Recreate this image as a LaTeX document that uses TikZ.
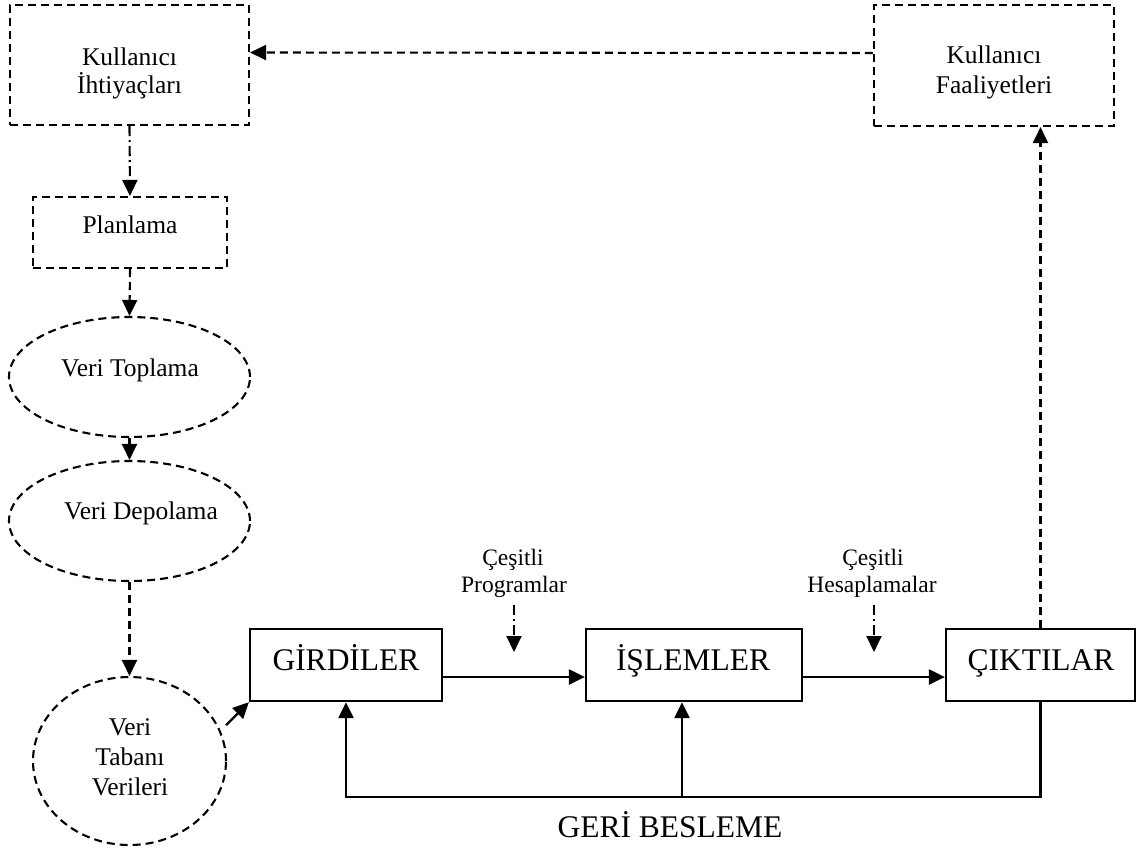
\documentclass[tikz,border=0pt]{standalone}
\usepackage{fontspec}
\setmainfont{Liberation Serif}
\usetikzlibrary{arrows.meta,shapes.geometric}

\tikzset{
  dsh/.style={line width=2.1pt, dash pattern=on 8pt off 5pt},
  dshdot/.style={line width=2.1pt, dash pattern=on 10pt off 4pt on 2pt off 4pt},
  solidline/.style={line width=2.3pt},
  tip/.style={-{Triangle[length=16pt,width=15pt]}},
  dbox/.style={draw, dsh, rectangle, inner sep=0pt},
  dell/.style={draw, dsh, ellipse, inner sep=0pt},
  sbox/.style={draw, solidline, rectangle, inner sep=0pt},
  midtxt/.style={anchor=base, inner sep=0pt, font=\fontsize{25.5}{30}\selectfont},
  smalltxt/.style={anchor=base, inner sep=0pt, font=\fontsize{23.5}{28}\selectfont},
  bigtxt/.style={anchor=base, inner sep=0pt, font=\fontsize{31.5}{36}\selectfont},
}

\begin{document}
\begin{tikzpicture}[x=1pt, y=-1pt]
\useasboundingbox (0,0) rectangle (1136,847);

% shapes
\node[dbox, minimum width=239pt, minimum height=120pt] (ki) at (129.5,65) {};
\node[dbox, minimum width=240pt, minimum height=121pt] (kf) at (994,65.5) {};
\node[dbox, minimum width=194pt, minimum height=71pt] (pl) at (130,232.5) {};
\node[dell, minimum width=241pt, minimum height=120pt] (vtop) at (129.5,377) {};
\node[dell, minimum width=241pt, minimum height=120pt] (vdep) at (129.5,521) {};
\node[dell, minimum width=193pt, minimum height=168pt] (vtab) at (129.5,761) {};
\node[sbox, minimum width=192pt, minimum height=72pt] (gir) at (346,665) {};
\node[sbox, minimum width=216pt, minimum height=72pt] (isl) at (694,665) {};
\node[sbox, minimum width=189pt, minimum height=72pt] (cik) at (1040.5,665) {};

% labels
\node[midtxt] (t1a) at (129.5,65) {Kullanıcı};
\node[midtxt] (t1b) at (129.5,93) {İhtiyaçları};
\node[midtxt] (t2a) at (994,63) {Kullanıcı};
\node[midtxt] (t2b) at (994,93) {Faaliyetleri};
\node[midtxt] (t3) at (130,233) {Planlama};
\node[midtxt] (t4) at (130,376) {Veri Toplama};
\node[midtxt] (t5) at (141,519) {Veri Depolama};
\node[midtxt] (t6a) at (130,735) {Veri};
\node[midtxt] (t6b) at (130,765) {Tabanı};
\node[midtxt] (t6c) at (130,795) {Verileri};
\node[smalltxt] (t7a) at (513,565) {Çeşitli};
\node[smalltxt] (t7b) at (514,592) {Programlar};
\node[smalltxt] (t8a) at (873,565) {Çeşitli};
\node[smalltxt] (t8b) at (872,592) {Hesaplamalar};
\node[bigtxt] (t9) at (346,670) {GİRDİLER};
\node[bigtxt] (t10) at (693,670) {İŞLEMLER};
\node[bigtxt] (t11) at (1041,670) {ÇIKTILAR};
\node[bigtxt] (t12) at (670,837) {GERİ BESLEME};

% helper points
\coordinate (prgtop) at (514,605);
\coordinate (prgend) at (514,652);
\coordinate (hsptop) at (874,605);
\coordinate (hspend) at (874,652);
\coordinate (fbmid) at (682,797);
\coordinate (dbout) at ([xshift=8pt]vtab.22);

% dashed flow on the left
\draw[dshdot, tip] (ki.south) -- (pl.north);
\draw[dsh, tip] (pl.south) -- (vtop.north);
\draw[dsh, tip] (vtop.south) -- (vdep.north);
\draw[dsh, tip] (vdep.south) -- (vtab.north);
\draw[solidline, tip] (dbout) -- (gir.south west);

% main process line
\draw[solidline, tip] ([yshift=-12pt]gir.east) -- ([yshift=-12pt]isl.west);
\draw[solidline, tip] ([yshift=-12pt]isl.east) -- ([yshift=-12pt]cik.west);

% side inputs
\draw[dshdot, tip] (prgtop) -- (prgend);
\draw[dshdot, tip] (hsptop) -- (hspend);

% feedback
\draw[solidline, tip] (cik.south) |- (fbmid) -| (gir.south);
\draw[solidline, tip] (fbmid) -- (fbmid |- isl.south);

% user loop
\draw[dsh, tip] (cik.north) -- (cik.north |- kf.south);
\draw[dsh, tip] ([yshift=12.5pt]kf.west) -- ([yshift=12.5pt]ki.east);
\end{tikzpicture}
\end{document}
